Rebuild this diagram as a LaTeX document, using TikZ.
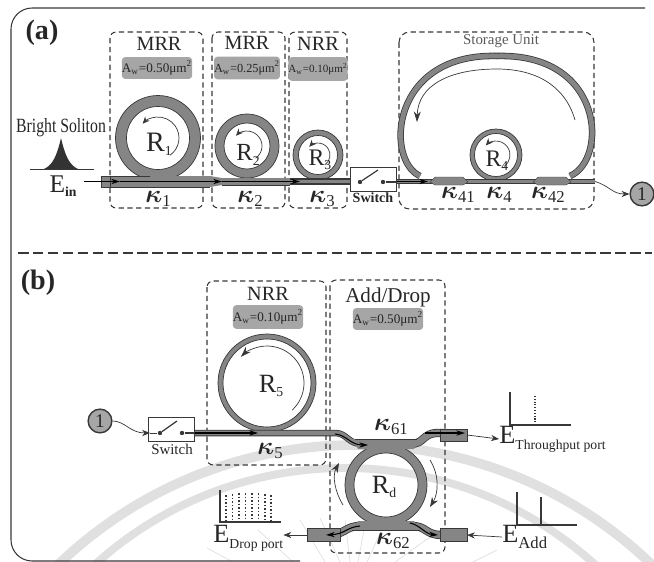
\documentclass[tikz,border=0pt]{standalone}
\usepackage{amssymb,amsmath}
\usepackage{fontspec}
\setmainfont{Liberation Serif}
\usepackage{tikz}
\usetikzlibrary{arrows.meta}
\definecolor{bandgray}{gray}{0.52}
\definecolor{boxgray}{gray}{0.65}
\definecolor{inkgray}{gray}{0.22}
\definecolor{markgray}{gray}{0.88}
% big letter with a small index next to it
\newcommand{\lab}[3][14]{{\fontsize{#1}{#1}\selectfont #2}\raisebox{-0.45ex}{\fontsize{7.8}{8}\selectfont #3}}
\newcommand{\kap}[1]{{\boldmath\fontsize{14.5}{14.5}\selectfont$\kappa$}\raisebox{-0.5ex}{\fontsize{9.5}{9.5}\selectfont #1}}
\newcommand{\area}[1]{A\textsubscript{w}=#1μm\textsuperscript{2}}
\tikzset{
	unitbox/.style={draw=inkgray, densely dashed, semithick, rounded corners=3.5pt},
	areabox/.style={fill=boxgray, rounded corners=2pt, inner sep=0pt, font=\fontsize{7.5}{8}\selectfont, text=black!85},
	ringband/.style={fill=bandgray, draw=inkgray, thin, even odd rule},
	wgband/.style={fill=bandgray, draw=inkgray, very thin},
	sband/.style={draw=inkgray, line width=0.45pt, double=bandgray, double distance=2.8pt},
	flow/.style={-{Stealth[length=4.5pt,width=3.5pt]}, inkgray, thin},
	wgflow/.style={-{Stealth[length=5pt,width=3pt]}, black, line width=0.6pt},
	spec/.style={inkgray, semithick},
	portcircle/.style={draw=inkgray, thick, circle, fill=boxgray, minimum size=13.5pt, inner sep=0pt, font=\fontsize{11}{11}\selectfont},
	switchbox/.style={draw=inkgray, thin, fill=white, minimum width=26pt, minimum height=13.5pt, inner sep=0pt},
	contact/.style={circle, fill=inkgray, inner sep=0pt, minimum size=2.5pt},
}
\begin{document}
\begin{tikzpicture}[x=0.02cm, y=-0.02cm, font=\fontsize{11.5}{12}\selectfont, text=black!85]
	\useasboundingbox (0,0) rectangle (654,562);
	% faint marks behind the figure
	\begin{scope}
		\clip (0,0) rectangle (654,562);
		\draw[markgray, line width=5.5pt] (355,873) circle (428);
		\draw[markgray, line width=4.5pt] (345,840) circle (372);
		\draw[markgray, thin] (320,518) -- (340,562) (387,518) -- (367,562) (258,530) -- (293,562) (207,548) -- (233,562)
			(300,520) -- (325,562) (345,520) -- (350,562) (365,525) -- (358,562) (440,530) -- (395,562) (497,550) -- (473,562);
	\end{scope}
	% outer frame, open on the right
	\draw[inkgray, semithick, rounded corners=12pt] (645,8) -- (11,8) -- (11,561) -- (300,561);
	\draw[inkgray, semithick, dash pattern=on 6pt off 2.5pt] (18,253) -- (652,253);
	\node[font=\fontsize{16}{16}\selectfont\bfseries] (tagA) at (42,33) {(a)};
	\node[font=\fontsize{16}{16}\selectfont\bfseries] (tagB) at (38,283) {(b)};

	% part (a): units
	\draw[unitbox] (110,32) rectangle (203,208);
	\draw[unitbox] (212,32) rectangle (285,208);
	\draw[unitbox] (289,32) rectangle (347,208);
	\draw[unitbox, rounded corners=6pt] (399,32) rectangle (594,209);
	\node (mrrA) at (159,44) {MRR};
	\node (mrrB) at (247,43) {MRR};
	\node (nrrA) at (318,44) {NRR};
	\node[font=\fontsize{8.5}{9}\selectfont, text=black!65] (storage) at (501,41) {Storage Unit};
	\node[areabox, minimum width=40pt, minimum height=12.5pt] (areaA) at (157,68) {\area{0.50}};
	\node[areabox, minimum width=37pt, minimum height=13pt, font=\fontsize{7}{7}\selectfont] (areaB) at (247,68) {\area{0.25}};
	\node[areabox, minimum width=31pt, minimum height=13.5pt, font=\fontsize{6.3}{7}\selectfont] (areaC) at (318,69) {\area{0.10}};

	% rings (a)
	\coordinate (C1) at (158,138);
	\coordinate (C2) at (247,146);
	\coordinate (C3) at (318,155);
	\coordinate (C4) at (496,155);
	\draw[ringband] (C1) circle (42.5) circle (31.5);
	\draw[ringband] (C2) circle (32) circle (23);
	\draw[ringband] (C3) circle (25) circle (19.5);
	\draw[ringband] (C4) circle (26) circle (21.5);
	\draw[-{Stealth[length=4pt,width=3.5pt]}, inkgray, thin] (C1) ++(55:21) arc[start angle=55, end angle=-137, radius=21];
	\draw[-{Stealth[length=4pt,width=3.5pt]}, inkgray, thin] (C2) ++(55:15) arc[start angle=55, end angle=-137, radius=15];
	\draw[-{Stealth[length=4pt,width=3.5pt]}, inkgray, thin] (C3) ++(55:12) arc[start angle=55, end angle=-137, radius=12];
	\draw[-{Stealth[length=4pt,width=3.5pt]}, inkgray, thin] (C4) ++(55:14) arc[start angle=55, end angle=-137, radius=14];
	\node (ringA) at (159,144) {\lab[16]{R}{1}};
	\node (ringB) at (248,155) {\lab[14]{R}{2}};
	\node (ringC) at (320,160) {\lab[13.5]{R}{3}};
	\node (ringD) at (497,161) {\lab[13.5]{R}{4}};

	% storage loop
	\draw[sband] (420,176) .. controls (385,160) and (390,53) .. (497,56) .. controls (605,53) and (608,160) .. (570,176);
	\draw[flow, -{Stealth[length=6pt,width=4pt]}] (575,120) .. controls (565,85) and (535,69) .. (497,69) .. controls (450,69) and (418,85) .. (417,122);

	% bus line (a)
	\fill[bandgray] (101,176) rectangle (210,187);
	\draw[inkgray, very thin] (101,176) -- (150,176) (101,187) -- (210,187);
	\draw[inkgray, very thin] (101,176) -- (101,187) (110,176) -- (110,187);
	\fill[bandgray] (210,176) -- (222,178) -- (290,178) -- (351,179) -- (351,184) -- (290,185) -- (222,185) -- (210,187) -- cycle;
	\draw[inkgray, very thin] (222,185) -- (290,185);
	\draw[inkgray, line width=0.8pt] (290,179) -- (351,179) (290,184) -- (351,184);
	\draw[sband, double distance=1.6pt] (396,181.5) -- (595,181.5);
	\draw[wgband] (430,182) -- (435,177) -- (463,177) -- (468,182) -- (463,185) -- (435,185) -- cycle;
	\draw[wgband] (533,182) -- (538,177) -- (566,177) -- (571,182) -- (566,185) -- (538,185) -- cycle;
	\draw[wgflow] (84,181.5) -- (120,181.5);
	\draw[wgflow] (120,181.5) -- (222,181.5);
	\draw[wgflow] (222,181.5) -- (300,181.5);
	\draw[wgflow] (396,181.5) -- (428,181.5);

	% source
	\node[font=\fontsize{11.5}{12}\selectfont, xscale=0.78] (soliton) at (61,128) {Bright Soliton};
	\fill[black!80] (44,169) .. controls (53,165) and (57,155) .. (61,138) .. controls (65,155) and (69,165) .. (78,169) -- cycle;
	\draw[inkgray] (30,169) -- (94,169);
	\node (ein) at (63,186) {\lab[14.5]{E}{\bfseries in}};

	% switch (a)
	\node[switchbox] (switchA) at (373.5,179) {};
	\node[contact] (swAl) at (360,182) {};
	\node[contact] (swAr) at (383,182) {};
	\coordinate (leverA) at (378,170);
	\draw[inkgray, line width=0.7pt] (swAl) -- (leverA);
	\draw[inkgray, line width=0.7pt] (swAr) -- (switchA.east |- swAr);
	\node[font=\fontsize{8}{8}\selectfont\bfseries] (swlabA) at (373,198) {Switch};

	% coupling labels (a)
	\node (kA) at (158,199) {\kap{1}};
	\node (kB) at (250,199) {\kap{2}};
	\node (kC) at (322,199) {\kap{3}};
	\node (kD) at (458,195) {\kap{41}};
	\node (kE) at (499,195) {\kap{4}};
	\node (kF) at (548,195) {\kap{42}};

	% output of (a)
	\node[portcircle] (outA) at (642,194) {1};
	\coordinate (busEndA) at (595,181.5);
	\draw[flow] (busEndA) .. controls (610,186) and (612,194) .. (outA.west);

	% part (b): units
	\draw[unitbox] (207,281) rectangle (326,465);
	\draw[unitbox] (330,280) rectangle (445,553);
	\node (nrrB) at (268,294) {NRR};
	\node[font=\fontsize{12}{12}\selectfont] (addDrop) at (388,297) {Add/Drop};
	\node[areabox, minimum width=38pt, minimum height=13.5pt] (areaD) at (268,317) {\area{0.10}};
	\node[areabox, minimum width=38pt, minimum height=12.5pt] (areaE) at (388,319) {\area{0.50}};

	% ring R5
	\coordinate (C5) at (267,383);
	\draw[ringband] (C5) circle (49) circle (44);
	\draw[flow, -{Stealth[length=6pt,width=4pt]}] (C5) ++(47:37) arc[start angle=47, end angle=-135, radius=37];
	\node (ringE) at (271,386) {\lab[15]{R}{5}};

	% bus line (b)
	\draw[sband] (195,433) -- (335,433) .. controls (347,433) and (348,444) .. (362,444);
	\draw[wgflow] (195,433) -- (258,433);
	\node[switchbox] (switchB) at (171.5,429) {};
	\node[contact] (swBl) at (160,433) {};
	\node[contact] (swBr) at (182,433) {};
	\coordinate (leverB) at (177,421);
	\draw[inkgray, line width=0.7pt] (swBl) -- (leverB);
	\draw[inkgray, line width=0.7pt] (swBr) -- (switchB.east |- swBr);
	\node[font=\fontsize{8.5}{9}\selectfont] (swlabB) at (172,449) {Switch};
	\node[portcircle] (outB) at (100,421) {1};
	\coordinate (swinB) at (150,433);
	\draw[flow] (outB.east) .. controls (125,421) and (130,433) .. (swinB);
	\draw[inkgray, thin] (swinB) -- (swBl);
	\node (kG) at (270,451) {\kap{5}};

	% add/drop ring with its two couplers
	\coordinate (C6) at (386,485);
	\draw[sband, double distance=3.8pt] (410,444) .. controls (425,444) and (422,433) .. (438,433) -- (445,433);
	\draw[sband, double distance=3.8pt] (360,526) .. controls (345,526) and (345,535) .. (328,535) -- (320,535);
	\draw[sband, double distance=3.8pt] (412,526) .. controls (427,526) and (425,535) .. (442,535) -- (450,535);
	\draw[ringband] (C6) circle (41) circle (32);
	\fill[bandgray] (352,439) -- (420,439) -- (414,449) -- (358,449) -- cycle;
	\fill[bandgray] (358,521) -- (414,521) -- (420,530) -- (352,530) -- cycle;
	\draw[inkgray, thin] (355,439.5) -- (417,439.5) (352,530) -- (420,530);
	\draw[wgband] (440,429) rectangle (467,441);
	\draw[wgband] (440,528) rectangle (467,541);
	\draw[wgband] (307,528) rectangle (340,541);
	\coordinate (thruL) at (467,435);
	\coordinate (addL) at (467,535);
	\coordinate (dropL) at (307,535);
	\draw[wgflow] (335,434) .. controls (347,435) and (350,445) .. (368,445);
	\draw[wgflow] (410,523) .. controls (420,525) and (425,534) .. (438,535);
	\draw[wgflow] (360,526) .. controls (347,527) and (345,534) .. (326,535);
	\draw[wgflow] (425,433) -- (465,433);
	\node (ringF) at (384,487) {\lab[15]{R}{d}};
	\draw[flow, -{Stealth[length=5.5pt,width=4pt]}] (343,505) .. controls (335,492) and (332,476) .. (339,463);
	\draw[flow, -{Stealth[length=5.5pt,width=4pt]}] (430,460) .. controls (440,476) and (438,494) .. (430,507);
	\node (kH) at (391,427) {\kap{61}};
	\node (kI) at (393,541) {\kap{62}};

	% ports and spectra
	\node[anchor=west, inner sep=0pt] (thru) at (499,439) {\lab[15]{E}{\raisebox{-1pt}{Throughput port}}};
	\node[anchor=west, inner sep=0pt] (add) at (502,537) {\lab[15]{E}{\raisebox{-1pt}{\fontsize{9.5}{10}\selectfont Add}}};
	\node[anchor=west, inner sep=0pt] (drop) at (213,538) {\lab[15]{E}{\raisebox{-1pt}{Drop port}}};
	\draw[flow] (thruL) -- (thru.west);
	\draw[flow] (add.west) -- (addL);
	\draw[flow] (dropL) -- (drop.east |- dropL);
	\draw[spec] (510,392) -- (510,425) -- (571,425);
	\draw[spec, densely dotted] (535,396) -- (535,425);
	\draw[spec] (517,492) -- (517,525) -- (577,525);
	\draw[spec] (541,497) -- (541,525);
	\draw[spec] (220,490) -- (220,522) -- (281,522);
	\draw[inkgray, densely dotted, line width=1pt] (226,495) -- (226,522) (232.5,494) -- (232.5,522) (239,493) -- (239,522) (245.5,493) -- (245.5,522) (252,493) -- (252,522) (258.5,493) -- (258.5,522) (265,494) -- (265,522) (271,495) -- (271,522);
\end{tikzpicture}
\end{document}
